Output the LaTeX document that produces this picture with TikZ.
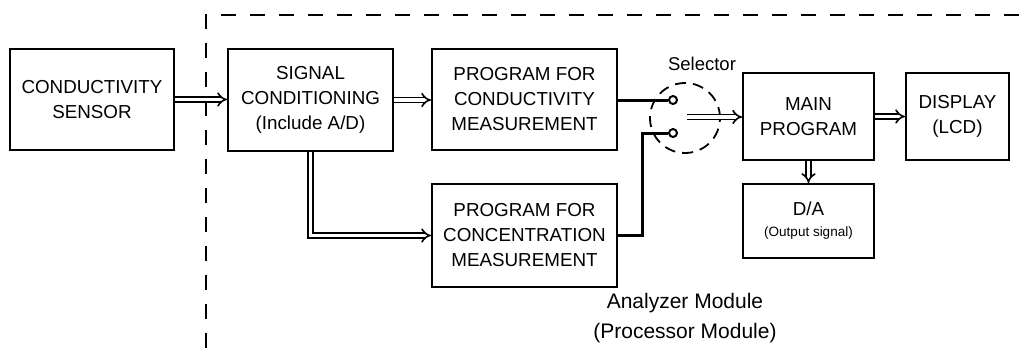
\documentclass[tikz,border=0pt]{standalone}
\usepackage{fontspec}
\setmainfont{Liberation Sans}
\usetikzlibrary{arrows.meta,calc}
\begin{document}
\begin{tikzpicture}[x=1pt,y=-1pt,
  blk/.style={draw, line width=2pt, align=center, inner sep=0pt, anchor=north west,
    font=\fontsize{18.8}{25}\selectfont},
  dbl/.style={double, double distance=3.2pt, line width=1.6pt, -{Implies[scale=1.2]}},
  thk/.style={line width=3pt},
  contact/.style={circle, draw, fill=white, line width=2pt, minimum size=8pt, inner sep=0pt},
  frame/.style={line width=1.6pt, dash pattern=on 15pt off 14pt},
  lbl/.style={align=center, inner sep=0pt}]
\useasboundingbox (0,0) rectangle (1022,348);
% frame
\draw[frame] (206,348) -- (206,15) -- (1022,15);
% boxes
\node[blk, minimum width=164pt, minimum height=101pt] (sensor) at (9,48) {CONDUCTIVITY\\SENSOR};
\node[blk, minimum width=165pt, minimum height=102pt] (sigcond) at (227,48) {SIGNAL\\CONDITIONING\\(Include A/D)};
\node[blk, minimum width=185pt, minimum height=101pt] (progcond) at (431,48) {PROGRAM FOR\\CONDUCTIVITY\\MEASUREMENT};
\node[blk, minimum width=185pt, minimum height=103pt] (progconc) at (431,183) {PROGRAM FOR\\CONCENTRATION\\MEASUREMENT};
\node[blk, minimum width=131pt, minimum height=87pt] (mainp) at (742,72) {MAIN\\PROGRAM};
\node[blk, minimum width=103pt, minimum height=87pt] (disp) at (905,72) {DISPLAY\\(LCD)};
\node[blk, minimum width=131pt, minimum height=74pt] (da) at (742,183) {D/A\\[-4pt]{\fontsize{13.5}{16}\selectfont (Output signal)}};
% selector
\node[circle, draw, line width=1.8pt, dash pattern=on 11pt off 7pt, minimum size=70pt, inner sep=0pt] (sel) at (685,118) {};
\node[lbl, font=\fontsize{18.5}{22}\selectfont] (seltxt) at (702,64) {Selector};
\node[contact] (cu) at (673,100) {};
\node[contact] (cl) at (673,133) {};
\coordinate (kink) at (642,133);
\coordinate (arm) at (687,117);
% connectors
\draw[dbl] (sensor.east) -- (sensor.east -| sigcond.west);
\draw[dbl] (sigcond.east) -- (sigcond.east -| progcond.west);
\draw[dbl] (sigcond.south) |- (progconc.west);
\draw[thk] (progcond.east |- cu) -- (cu.west);
\draw[thk] (progconc.east) -| (kink) -- (cl.west);
\draw[dbl] (arm) -- (arm -| mainp.west);
\draw[dbl] (mainp.east) -- (mainp.east -| disp.west);
\draw[dbl] (mainp.south) -- (da.north);
% module label
\node[lbl, font=\fontsize{21}{30}\selectfont] (module) at (685,318) {Analyzer Module\\(Processor Module)};
\end{tikzpicture}
\end{document}
